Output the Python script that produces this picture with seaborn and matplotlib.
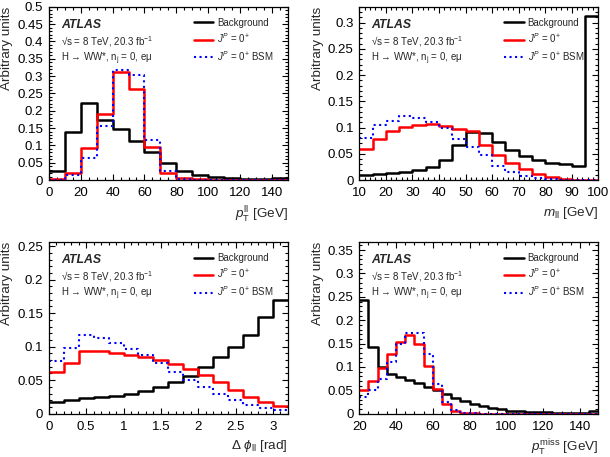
import numpy as np
import pandas as pd
import matplotlib
matplotlib.use("Agg")
import matplotlib.pyplot as plt
from matplotlib.lines import Line2D
from matplotlib.ticker import MultipleLocator, FuncFormatter
import seaborn as sns

# -------------------------------
# Data (arbitrary units)
# -------------------------------
ptll_bins = np.arange(0, 151, 10)
ptll_bkg = [0.025, 0.138, 0.222, 0.173, 0.148, 0.112, 0.080, 0.048, 0.025, 0.015,
            0.008, 0.005, 0.004, 0.003, 0.005]
ptll_sm = [0.002, 0.020, 0.093, 0.190, 0.312, 0.262, 0.095, 0.020, 0.005, 0.002,
           0.001, 0.001, 0.001, 0.001, 0.001]
ptll_bsm = [0.001, 0.015, 0.063, 0.155, 0.318, 0.302, 0.117, 0.025, 0.003, 0.001,
            0.0, 0.0, 0.0, 0.0, 0.0]

mll_bins = np.arange(10, 101, 5)
mll_bkg = [0.010, 0.012, 0.014, 0.016, 0.019, 0.024, 0.038, 0.066, 0.092, 0.089,
           0.073, 0.058, 0.045, 0.038, 0.033, 0.030, 0.026, 0.313]
mll_sm = [0.059, 0.079, 0.093, 0.102, 0.105, 0.106, 0.103, 0.098, 0.093, 0.067,
          0.048, 0.032, 0.021, 0.012, 0.005, 0.002, 0.001, 0.0]
mll_bsm = [0.080, 0.104, 0.113, 0.123, 0.119, 0.111, 0.099, 0.079, 0.063, 0.047,
           0.027, 0.016, 0.008, 0.004, 0.002, 0.001, 0.0, 0.0]

dphi_bins = np.linspace(0, 3.2, 17)
dphi_bkg = [0.017, 0.020, 0.023, 0.025, 0.027, 0.030, 0.034, 0.040, 0.047, 0.056,
            0.069, 0.084, 0.099, 0.118, 0.145, 0.170]
dphi_sm = [0.062, 0.076, 0.094, 0.094, 0.091, 0.088, 0.085, 0.080, 0.074, 0.066,
           0.058, 0.047, 0.035, 0.025, 0.017, 0.011]
dphi_bsm = [0.079, 0.098, 0.118, 0.113, 0.106, 0.097, 0.087, 0.075, 0.062, 0.050,
            0.039, 0.029, 0.020, 0.013, 0.008, 0.006]

met_bins = np.arange(20, 151, 5)
met_bkg = [0.243, 0.142, 0.100, 0.084, 0.078, 0.072, 0.065, 0.058, 0.050, 0.042,
           0.034, 0.028, 0.021, 0.016, 0.012, 0.009, 0.006, 0.005, 0.004, 0.003,
           0.003, 0.002, 0.002, 0.002, 0.002, 0.005]
met_sm = [0.050, 0.070, 0.098, 0.127, 0.153, 0.168, 0.148, 0.101, 0.052, 0.020,
          0.006, 0.002, 0.001, 0.0, 0.0, 0.0, 0.0, 0.0, 0.0, 0.0,
          0.0, 0.0, 0.0, 0.0, 0.0, 0.0]
met_bsm = [0.035, 0.050, 0.073, 0.110, 0.150, 0.173, 0.173, 0.128, 0.064, 0.024,
           0.007, 0.002, 0.001, 0.0, 0.0, 0.0, 0.0, 0.0, 0.0, 0.0,
           0.0, 0.0, 0.0, 0.0, 0.0, 0.0]

# -------------------------------
# Style
# -------------------------------
sns.set_style("ticks")
plt.rcParams["font.family"] = ["Liberation Sans", "DejaVu Sans"]
plt.rcParams["mathtext.fontset"] = "custom"
plt.rcParams["mathtext.rm"] = "Liberation Sans"
plt.rcParams["mathtext.it"] = "Liberation Sans:italic"
plt.rcParams["mathtext.bf"] = "Liberation Sans:bold"

BLACK = "#000000"
RED = "#ff0000"
BLUE = "#0000ff"

fig = plt.figure(figsize=(6.10, 4.57), dpi=100)

panels = [
    dict(rect=[0.080, 0.606, 0.392, 0.379], bins=ptll_bins, bkg=ptll_bkg, sm=ptll_sm, bsm=ptll_bsm,
         xlim=(0, 150), ylim=(0, 0.5), xmaj=20, xmin=5, xlabel=r"$p_{\mathrm{T}}^{\mathrm{ll}}$ [GeV]"),
    dict(rect=[0.589, 0.606, 0.392, 0.379], bins=mll_bins, bkg=mll_bkg, sm=mll_sm, bsm=mll_bsm,
         xlim=(10, 100), ylim=(0, 0.33), xmaj=10, xmin=2, xlabel=r"$m_{\mathrm{ll}}$ [GeV]"),
    dict(rect=[0.080, 0.095, 0.392, 0.375], bins=dphi_bins, bkg=dphi_bkg, sm=dphi_sm, bsm=dphi_bsm,
         xlim=(0, 3.2), ylim=(0, 0.256), xmaj=0.5, xmin=0.1, xlabel=r"$\Delta\ \phi_{\mathrm{ll}}$ [rad]"),
    dict(rect=[0.589, 0.095, 0.392, 0.375], bins=met_bins, bkg=met_bkg, sm=met_sm, bsm=met_bsm,
         xlim=(20, 150), ylim=(0, 0.367), xmaj=20, xmin=5, xlabel=r"$p_{\mathrm{T}}^{\mathrm{miss}}$ [GeV]"),
]

fmt = FuncFormatter(lambda v, p: f"{v:g}")

for p in panels:
    ax = fig.add_axes(p["rect"])
    edges = [float(e) for e in p["bins"]]
    centers = [0.5 * (a + b) for a, b in zip(edges[:-1], edges[1:])]
    df = pd.DataFrame({"x": centers, "bkg": p["bkg"], "sm": p["sm"], "bsm": p["bsm"]})

    sns.histplot(data=df, x="x", weights="bkg", bins=edges, element="step", fill=False,
                 color=BLACK, linewidth=1.8, ax=ax)
    sns.histplot(data=df, x="x", weights="sm", bins=edges, element="step", fill=False,
                 color=RED, linewidth=1.8, ax=ax)
    sns.histplot(data=df, x="x", weights="bsm", bins=edges, element="step", fill=False,
                 color=BLUE, linewidth=1.5, linestyle=":", ax=ax)

    ax.set_xlim(*p["xlim"])
    ax.set_ylim(*p["ylim"])
    ax.xaxis.set_major_locator(MultipleLocator(p["xmaj"]))
    ax.xaxis.set_minor_locator(MultipleLocator(p["xmin"]))
    ax.yaxis.set_major_locator(MultipleLocator(0.05))
    ax.yaxis.set_minor_locator(MultipleLocator(0.01))
    ax.xaxis.set_major_formatter(fmt)
    ax.yaxis.set_major_formatter(fmt)
    ax.tick_params(which="both", direction="in", top=True, right=True, labelsize=9.5,
                   width=0.8, colors="black")
    ax.tick_params(which="major", length=4.0)
    ax.tick_params(which="minor", length=2.0)
    ax.tick_params(axis="x", which="major", pad=5)
    ax.tick_params(axis="y", which="major", pad=4)
    for s in ax.spines.values():
        s.set_linewidth(0.9)
        s.set_color("black")

    ax.set_ylabel("Arbitrary units", fontsize=9.7, loc="top", labelpad=3)
    ax.set_xlabel(p["xlabel"], fontsize=9.7, loc="right", labelpad=4)

    ax.text(0.05, 0.895, "ATLAS", transform=ax.transAxes, fontsize=8.8,
            fontweight="bold", fontstyle="italic", va="center")
    ax.text(0.05, 0.80, "√s = 8 TeV, 20.3 fb$^{-1}$", transform=ax.transAxes,
            fontsize=7, va="center")
    ax.text(0.05, 0.70, "H → WW*, n$_{\\mathrm{j}}$ = 0, eμ", transform=ax.transAxes,
            fontsize=7, va="center")

    handles = [Line2D([], [], color=BLACK, lw=1.8),
               Line2D([], [], color=RED, lw=1.8),
               Line2D([], [], color=BLUE, lw=1.5, ls=":")]
    labels = ["Background", r"$J^{P}$ = 0$^{+}$", r"$J^{P}$ = 0$^{+}$ BSM"]
    ax.legend(handles, labels, loc="upper left", bbox_to_anchor=(0.59, 0.96),
              frameon=False, fontsize=7, handlelength=2.0, handletextpad=0.4,
              labelspacing=0.38, borderaxespad=0)

fig.savefig("out.png", dpi=100)
